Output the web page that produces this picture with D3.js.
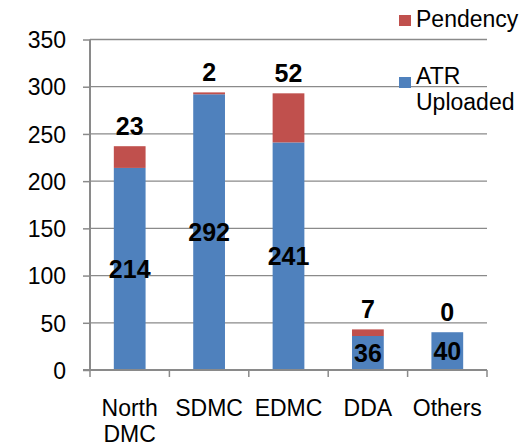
<!DOCTYPE html>
<html><head><meta charset="utf-8">
<script src="https://cdn.jsdelivr.net/npm/d3@7"></script>
<style>
html,body{margin:0;padding:0;background:#fff;}
svg text{font-family:"Liberation Sans",Arial,sans-serif;fill:#000;}
</style></head>
<body><svg id="c" width="522" height="446"></svg>
<script>
const categories = ["North DMC","SDMC","EDMC","DDA","Others"];
const atrUploaded = [214,292,241,36,40];
const pendency = [23,2,52,7,0];
const yTicks = [0,50,100,150,200,250,300,350];
const seriesNames = ["Pendency","ATR Uploaded"];
const colors = {atr:"#4F81BD", pend:"#C0504D"};

const svg = d3.select("#c");
const L=90, R=487, T=39.5, B=370;
const FS = "23px";
const x = d3.scaleBand().domain(categories).range([L,R]).paddingInner(0.6).paddingOuter(0.3);
const y = d3.scaleLinear().domain([0,350]).range([B,T]);
const grey="#8a8a8a";

// gridlines
svg.append("g").selectAll("line").data(yTicks.filter(d=>d>0)).join("line")
  .attr("x1",L).attr("x2",R).attr("y1",d=>y(d)).attr("y2",d=>y(d))
  .attr("stroke",grey).attr("stroke-width",1.3);

const rows = categories.map((c,i)=>({c, a:atrUploaded[i], p:pendency[i]}));

// bars
svg.append("g").selectAll("rect").data(rows).join("rect")
  .attr("x",d=>x(d.c)).attr("width",x.bandwidth())
  .attr("y",d=>y(d.a)).attr("height",d=>y(0)-y(d.a)).attr("fill",colors.atr);
svg.append("g").selectAll("rect").data(rows.filter(d=>d.p>0)).join("rect")
  .attr("x",d=>x(d.c)).attr("width",x.bandwidth())
  .attr("y",d=>y(d.a+d.p)).attr("height",d=>y(d.a)-y(d.a+d.p)).attr("fill",colors.pend);

// y axis
const ya = svg.append("g").attr("transform",`translate(${L},0)`)
  .call(d3.axisLeft(y).tickValues(yTicks).tickSize(7).tickPadding(17).tickFormat(d3.format("d")));
ya.select(".domain").attr("stroke",grey).attr("stroke-width",2).attr("d",`M0,${T}V${B}`);
ya.selectAll(".tick line").attr("stroke",grey).attr("stroke-width",1.5);
ya.selectAll("text").style("font-size",FS).attr("dy","0.36em").attr("fill","#000");

// x axis
const xa = svg.append("g").attr("transform",`translate(0,${B})`)
  .call(d3.axisBottom(x).tickSize(0).tickFormat(""));
xa.select(".domain").attr("stroke",grey).attr("stroke-width",2).attr("d",`M${L-7},0H${R}`);
const bounds = [L, ...categories.map(c=>x(c)+x.bandwidth()/2+x.step()/2)];
xa.append("g").selectAll("line").data(bounds).join("line")
  .attr("x1",d=>d).attr("x2",d=>d).attr("y1",0).attr("y2",7)
  .attr("stroke",grey).attr("stroke-width",1.5);

// category labels
const cl = svg.append("g").selectAll("text").data(categories).join("text")
  .attr("text-anchor","middle").style("font-size",FS)
  .attr("x",d=>x(d)+x.bandwidth()/2).attr("y",416);
cl.each(function(d){
  const parts = d.split(" ");
  const t = d3.select(this);
  if(d==="North DMC"){
    t.append("tspan").attr("x",x(d)+x.bandwidth()/2).text(parts[0]);
    t.append("tspan").attr("x",x(d)+x.bandwidth()/2).attr("dy",26).text(parts[1]);
  } else t.text(d);
});

// data labels
svg.append("g").selectAll("text").data(rows).join("text")
  .attr("text-anchor","middle").style("font-size","25px").style("font-weight","bold")
  .attr("x",d=>x(d.c)+x.bandwidth()/2).attr("y",d=>(y(0)+y(d.a))/2).attr("dy","0.36em")
  .text(d=>d.a);
svg.append("g").selectAll("text").data(rows).join("text")
  .attr("text-anchor","middle").style("font-size","25px").style("font-weight","bold")
  .attr("x",d=>x(d.c)+x.bandwidth()/2).attr("y",d=>y(d.a+d.p)-11)
  .text(d=>d.p);

// legend
const lg = svg.append("g");
lg.append("rect").attr("x",399).attr("y",15).attr("width",12).attr("height",11).attr("fill",colors.pend);
lg.append("text").attr("x",416).attr("y",27).style("font-size",FS).text(seriesNames[0]);
lg.append("rect").attr("x",399).attr("y",77).attr("width",12).attr("height",11).attr("fill",colors.atr);
const t2 = lg.append("text").attr("x",416).attr("y",84).style("font-size",FS);
t2.append("tspan").attr("x",416).text("ATR");
t2.append("tspan").attr("x",416).attr("dy",26).text("Uploaded");
</script></body></html>
